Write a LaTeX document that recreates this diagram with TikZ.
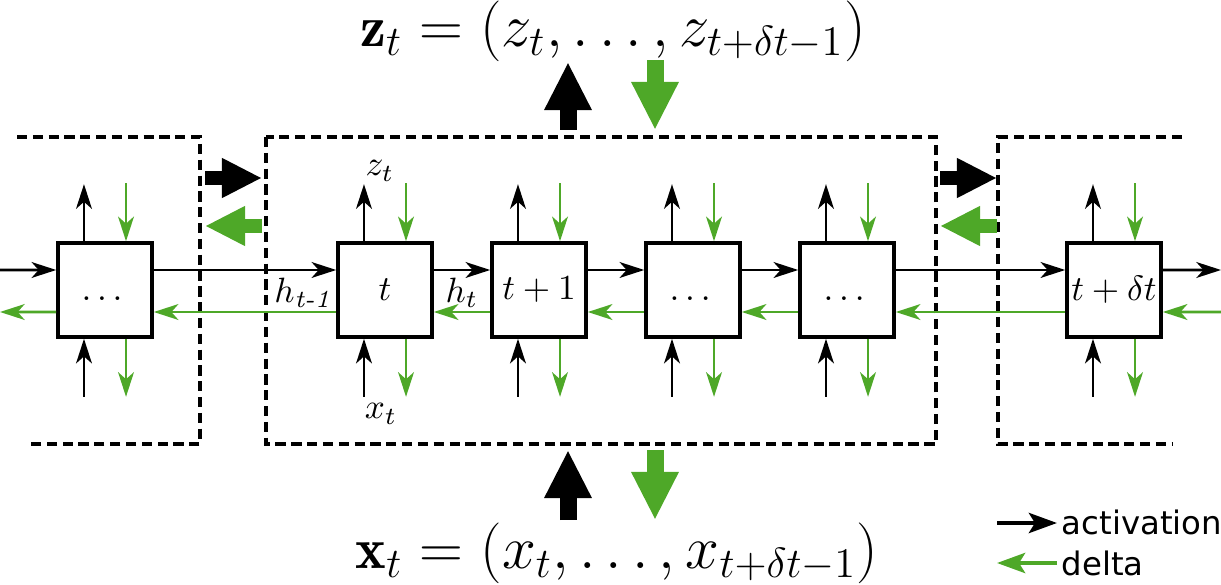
\documentclass[tikz,border=0pt]{standalone}
\usepackage{amsmath,amssymb}
\usepackage{fontspec}
\newfontfamily\legendfont{DejaVu Sans}
\usetikzlibrary{arrows.meta,positioning}
\definecolor{deltagreen}{RGB}{78,168,40}

\tikzset{
  cell/.style={draw,line width=1pt,minimum size=0.94cm,inner sep=0pt,fill=white},
  act/.style={-{Stealth[length=7pt,width=4.5pt,inset=2pt]},line width=0.75pt},
  dlt/.style={act,deltagreen},
  grp/.style={line width=0.9pt,dash pattern=on 2.9pt off 1.6pt},
  bigact/.style={-{Triangle[length=0.48cm,width=0.44cm]},line width=0.17cm},
  bigdlt/.style={bigact,deltagreen},
  midact/.style={-{Triangle[length=0.40cm,width=0.37cm]},line width=0.14cm},
  middlt/.style={midact,deltagreen},
  legact/.style={-{Stealth[length=0.28cm,width=0.2cm,inset=0.06cm]},line width=1.3pt},
  legdlt/.style={legact,deltagreen},
}

\begin{document}
\begin{tikzpicture}[x=0.01cm,y=-0.01cm]
\useasboundingbox (0,0) rectangle (1221,585);

% groups of time steps
\draw[grp] (17,137) -- (200,137) -- (200,444) -- (28,444);
\draw[grp] (266,137) rectangle (936,444);
\draw[grp] (1182,137) -- (998,137) -- (998,444) -- (1172,444);

% cells
\node[cell] (c0) at (105,290) {$\ldots\vphantom{t}$};
\node[cell] (c1) at (385,290) {$t$};
\node[cell] (c2) at (539,290) {$t+1$};
\node[cell] (c3) at (693,290) {$\ldots\vphantom{t}$};
\node[cell] (c4) at (847,290) {$\ldots\vphantom{t}$};
\node[cell] (c5) at (1114,290) {$t+\delta t$};

% recurrent connections
\coordinate (inL) at (0,270);
\coordinate (outL) at (0,312);
\coordinate (outR) at (1221,270);
\coordinate (inR) at (1221,312);
\draw[act] (inL) -- ([yshift=0.2cm]c0.west);
\draw[dlt] ([yshift=-0.22cm]c0.west) -- (outL);
\foreach \a/\b in {c0/c1,c1/c2,c2/c3,c3/c4,c4/c5} {
  \draw[act] ([yshift=0.2cm]\a.east) -- ([yshift=0.2cm]\b.west);
  \draw[dlt] ([yshift=-0.22cm]\b.west) -- ([yshift=-0.22cm]\a.east);
}
\draw[act] ([yshift=0.2cm]c5.east) -- (outR);
\draw[dlt] (inR) -- ([yshift=-0.22cm]c5.east);

% inputs and outputs of each cell
\foreach \c in {c0,c1,c2,c3,c4,c5} {
  \coordinate (\c-zo) at ([xshift=-0.21cm,yshift=0.57cm]\c.north);
  \coordinate (\c-zi) at ([xshift=0.21cm,yshift=0.58cm]\c.north);
  \coordinate (\c-xi) at ([xshift=-0.21cm,yshift=-0.58cm]\c.south);
  \coordinate (\c-xo) at ([xshift=0.21cm,yshift=-0.58cm]\c.south);
  \draw[act] ([xshift=-0.21cm]\c.north) -- (\c-zo);
  \draw[dlt] (\c-zi) -- ([xshift=0.21cm]\c.north);
  \draw[act] (\c-xi) -- ([xshift=-0.21cm]\c.south);
  \draw[dlt] ([xshift=0.21cm]\c.south) -- (\c-xo);
}
\node (zlab) at (380,171) {$z_t$};
\node (xlab) at (381,414) {$x_t$};
\node (hprev) at (303,293) {$h_{\textit{t-1}}$};
\node (hcur) at (462,293) {$h_t$};

% sequence labels
\node (zvec) at (613,31) {\fontsize{16.5}{20}\selectfont $\mathbf{z}_t = (z_t, \ldots, z_{t+\delta t-1})$};
\node (xvec) at (617,553) {\fontsize{16.5}{20}\selectfont $\mathbf{x}_t = (x_t, \ldots, x_{t+\delta t-1})$};

% block transfer
\coordinate (zup0) at (568,130);
\coordinate (zup1) at (568,62);
\coordinate (zdn0) at (655,60);
\coordinate (zdn1) at (655,130);
\coordinate (xup0) at (568,520);
\coordinate (xup1) at (568,450);
\coordinate (xdn0) at (655,450);
\coordinate (xdn1) at (655,520);
\draw[bigact] (zup0) -- (zup1);
\draw[bigdlt] (zdn0) -- (zdn1);
\draw[bigact] (xup0) -- (xup1);
\draw[bigdlt] (xdn0) -- (xdn1);
\coordinate (la0) at (205,178);
\coordinate (la1) at (262,178);
\coordinate (ld0) at (262,226);
\coordinate (ld1) at (205,226);
\coordinate (ra0) at (940,178);
\coordinate (ra1) at (997,178);
\coordinate (rd0) at (997,226);
\coordinate (rd1) at (940,226);
\draw[midact] (la0) -- (la1);
\draw[middlt] (ld0) -- (ld1);
\draw[midact] (ra0) -- (ra1);
\draw[middlt] (rd0) -- (rd1);

% legend
\coordinate (lgA0) at (997,523);
\coordinate (lgA1) at (1057,523);
\coordinate (lgD0) at (1057,563);
\coordinate (lgD1) at (997,563);
\draw[legact] (lgA0) -- (lgA1);
\draw[legdlt] (lgD0) -- (lgD1);
\node[anchor=west,inner sep=0pt,font=\legendfont\fontsize{9.2}{11}\selectfont] (lgAtext) at (1061,522) {activation};
\node[anchor=west,inner sep=0pt,font=\legendfont\fontsize{9.2}{11}\selectfont] (lgDtext) at (1061,563) {delta};
\end{tikzpicture}
\end{document}
